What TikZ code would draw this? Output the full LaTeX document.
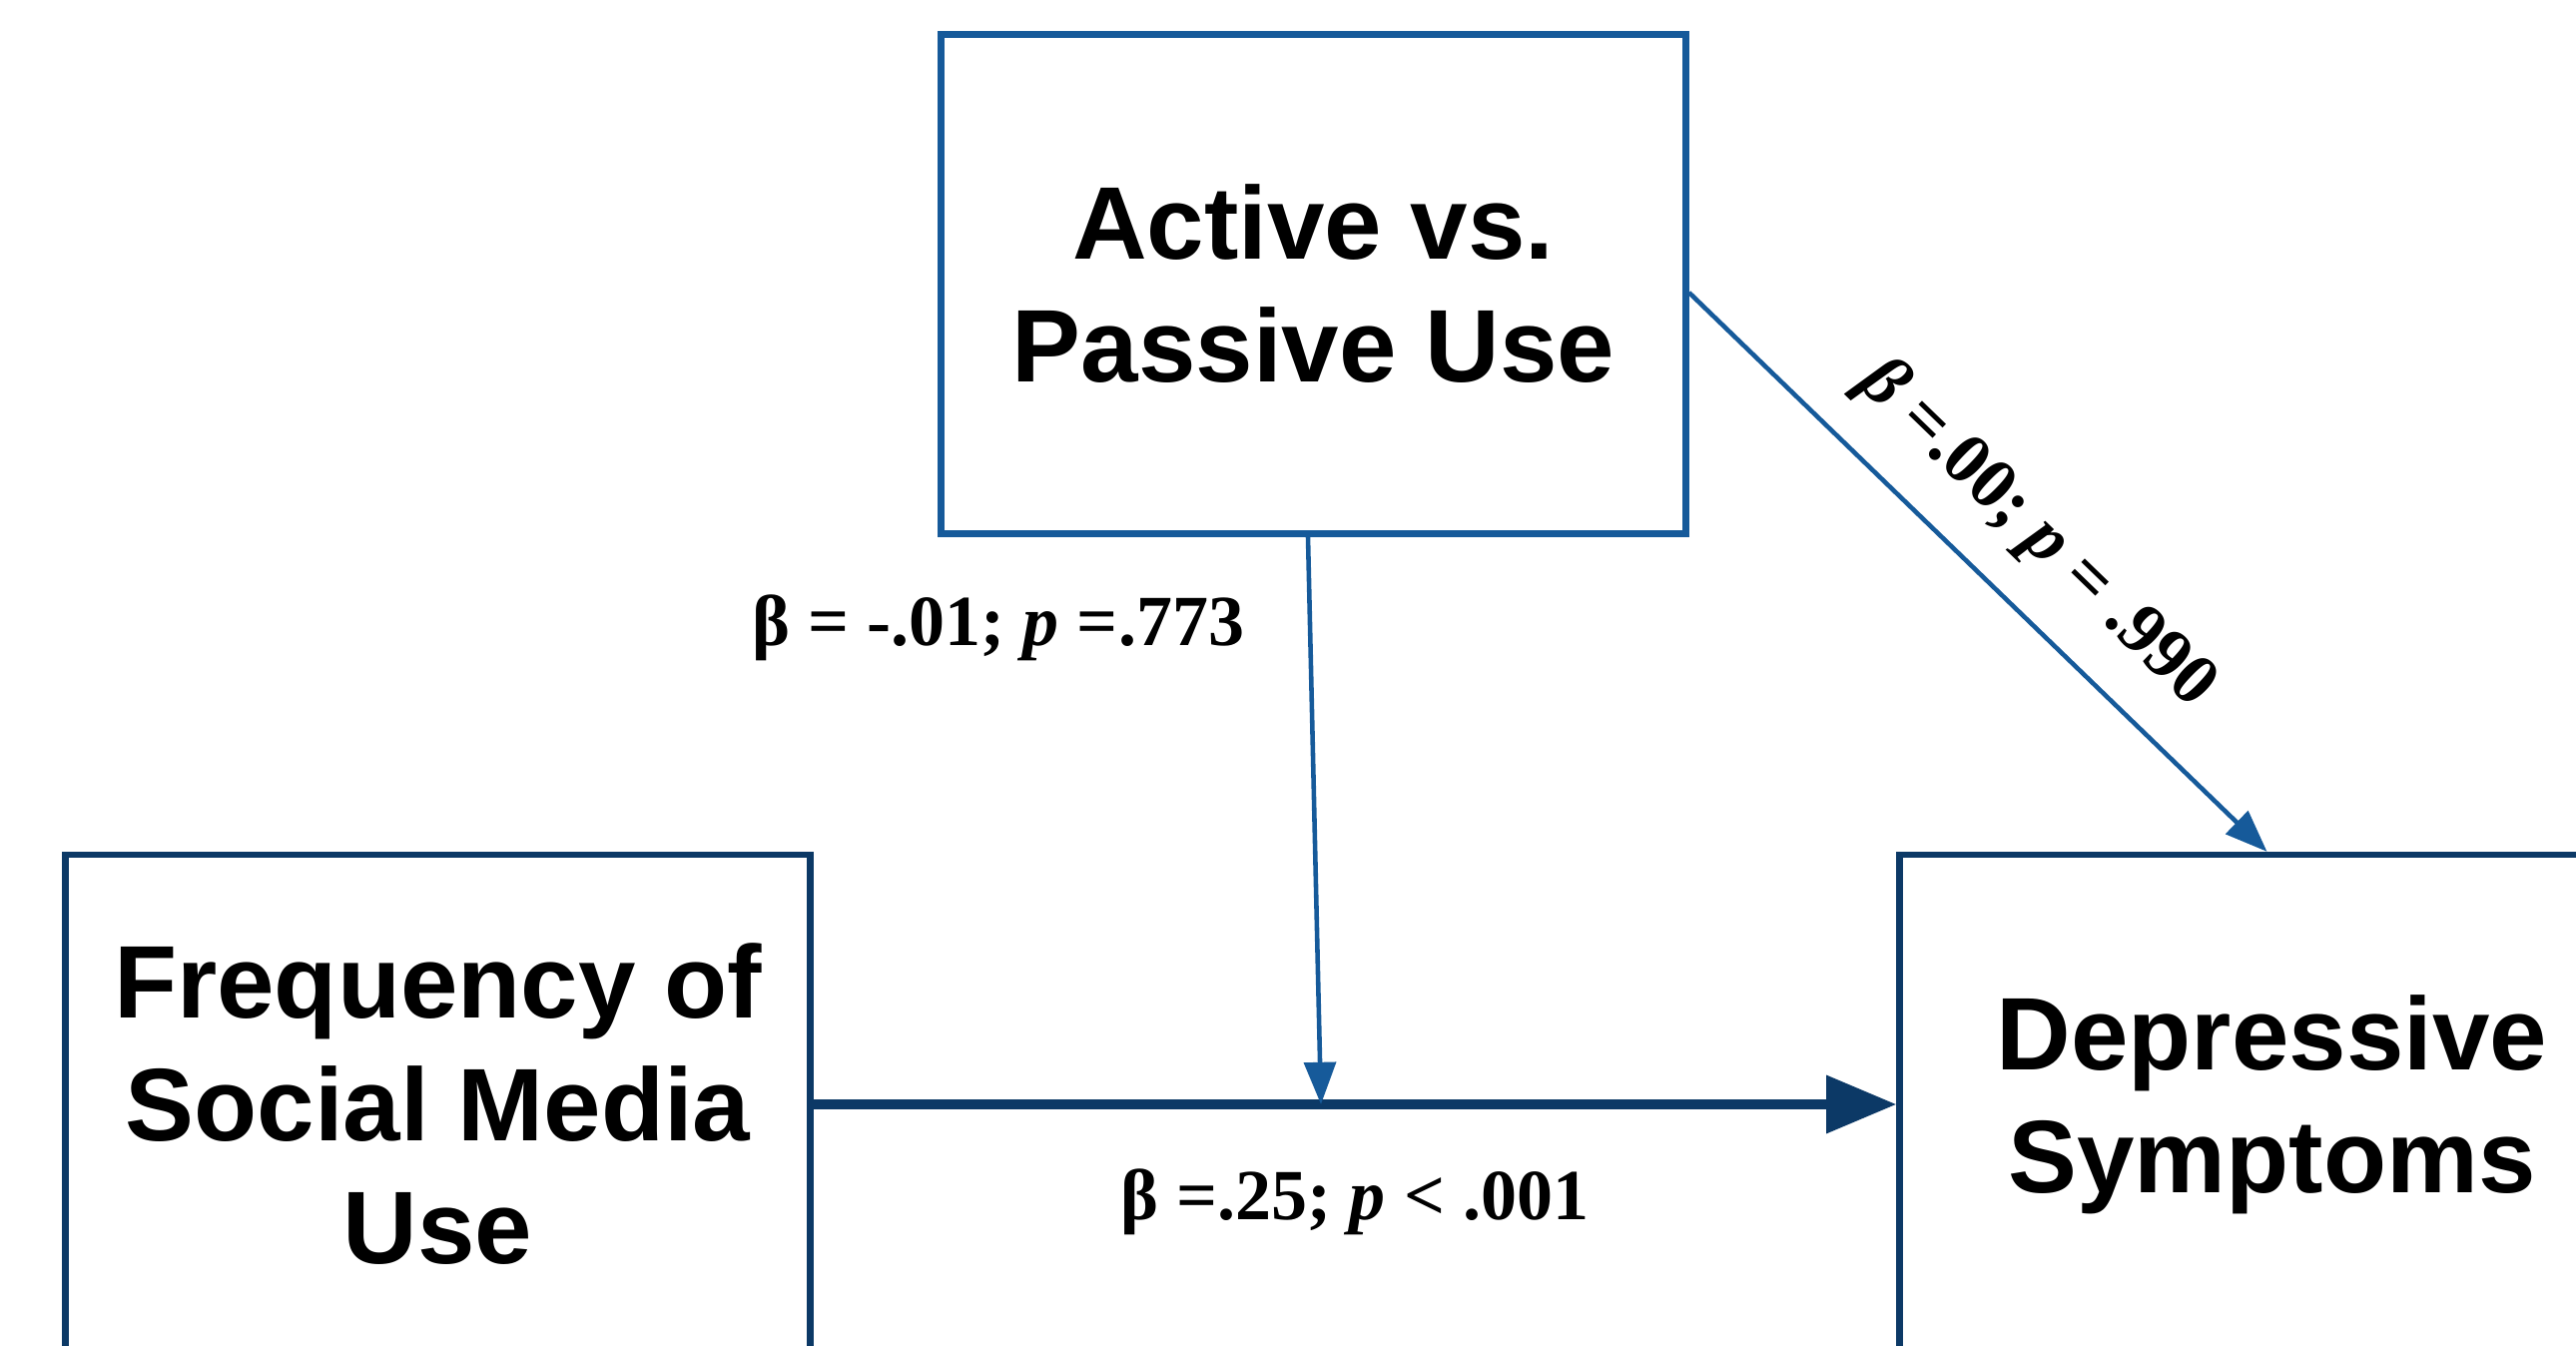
\documentclass[tikz,border=0pt]{standalone}
\usepackage{fontspec}
\setmainfont{Liberation Serif}
\newfontfamily\boxfont{Liberation Sans}
\usetikzlibrary{arrows.meta}
\definecolor{boxblue}{HTML}{165A9A}
\definecolor{navy}{HTML}{0C3966}
\begin{document}
\begin{tikzpicture}[var/.style={draw=boxblue, line width=1.8pt, minimum width=7.46cm, minimum height=5cm, inner sep=0pt, align=center, font=\boxfont\bfseries\fontsize{29.4}{35}\selectfont},
	coef/.style={font=\bfseries\fontsize{20.5}{24}\selectfont, text=black, fill=none},
	thin/.style={boxblue, line width=1.3pt, -{Triangle[length=12pt,width=9pt]}}]
			\useasboundingbox (0,0) rectangle (25.8,13.47);
			\clip (0,0) rectangle (25.8,13.47);
			\node [var] (ap) at (13.155,10.625) {Active vs.\\Passive Use};
			\node [var, draw=navy] (freq) at (4.385,2.41) {Frequency of\\Social Media\\Use};
			\node [var, draw=navy] (dep) at (22.755,2.41) {Depressive\\Symptoms};
			\coordinate (mod) at (13.23,2.41);
			\draw [navy, line width=2.7pt, -{Triangle[length=20pt,width=16pt]}] (freq) -- (dep) node [coef, midway, yshift=-0.98cm] {β =.25; \textit{p} < .001};
			\draw [thin] ([xshift=-0.055cm]ap.south) -- (mod) node [coef, pos=0.16, left=0.52cm] {β = -.01; \textit{p} =.773};
			\draw [thin] ([yshift=-0.085cm]ap.east) -- ([xshift=-0.05cm]dep.north) node [coef, pos=0.52, sloped, above=6pt] {\textit{β} =.00; \textit{p} = .990};
		\end{tikzpicture}
\end{document}
